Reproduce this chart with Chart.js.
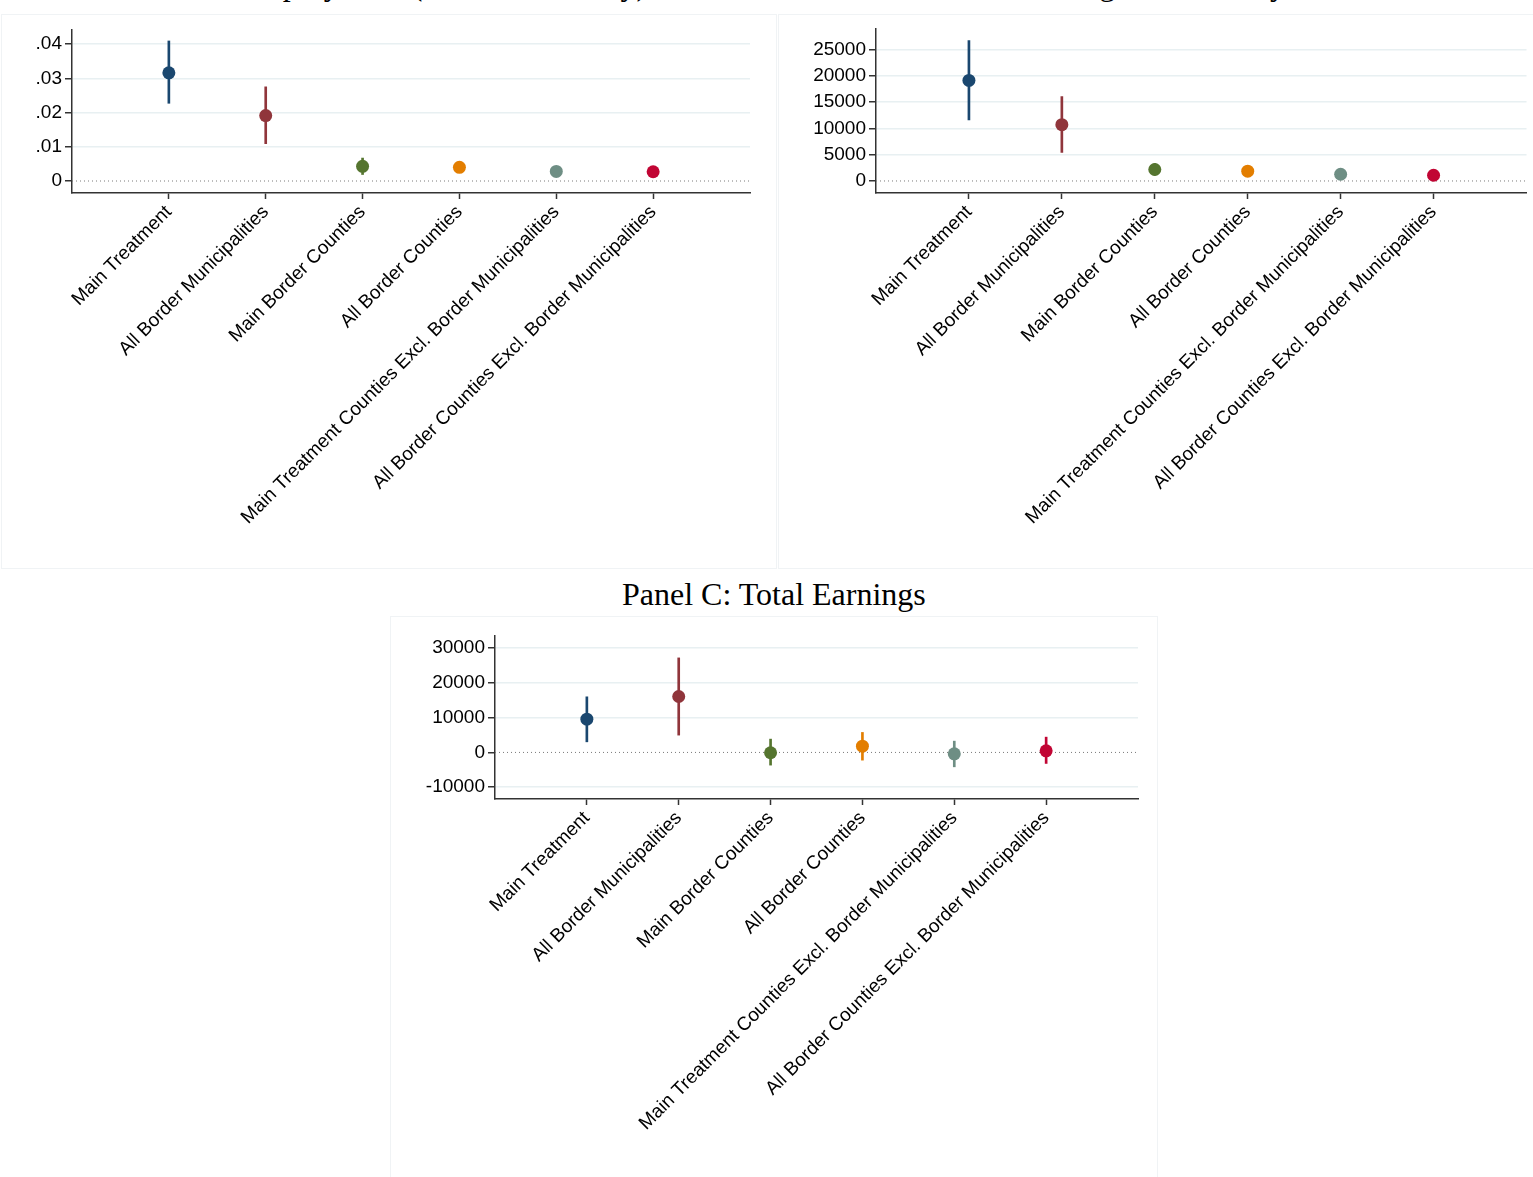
<!DOCTYPE html>
<html>
<head>
<meta charset="utf-8">
<script src="https://cdn.jsdelivr.net/npm/chart.js@4.4.1/dist/chart.umd.min.js"></script>
<style>
body{margin:0;background:#fff;width:1533px;height:1177px;overflow:hidden;position:relative;font-family:"Liberation Sans",Arial,sans-serif}
.box{position:absolute;border:1px solid #f0f3f5;box-sizing:border-box}
.panel{position:absolute}
.title{position:absolute;font-family:"Liberation Serif","Times New Roman",serif;font-size:32px;line-height:32px;white-space:nowrap;color:#000}
</style>
</head>
<body>
<div class="box" style="left:1px;top:14px;width:776px;height:555px"></div>
<div class="box" style="left:778px;top:14px;width:760px;height:555px"></div>
<div class="box" style="left:390px;top:616px;width:768px;height:565px"></div>

<div class="title" style="left:121px;top:-32px">Panel A: Employment (Work in Norway)</div>
<div class="title" style="left:868px;top:-32px">Panel B: Total Wages in Norway</div>
<div class="title" style="left:622px;top:578px">Panel C: Total Earnings</div>

<canvas id="chartA" class="panel" width="778" height="568" style="left:0;top:0"></canvas>
<canvas id="chartB" class="panel" width="753" height="568" style="left:780px;top:0"></canvas>
<canvas id="chartC" class="panel" width="768" height="561" style="left:390px;top:616px"></canvas>

<script>
'use strict'
//////////////////
// Data
//////////////////
const categories = ['Main Treatment', 'All Border Municipalities', 'Main Border Counties', 'All Border Counties',
  'Main Treatment Counties Excl. Border Municipalities', 'All Border Counties Excl. Border Municipalities'];
const markerColors = ['#1a476f', '#90353b', '#55752f', '#e37e00', '#6e8e84', '#c10534'];

// Panel A: employment
const estA = [0.0316, 0.0191, 0.0043, 0.0040, 0.0028, 0.0027];
const loA = [0.0227, 0.0109, 0.0019, 0.0030, 0.0022, 0.0021];
const hiA = [0.0409, 0.0275, 0.0067, 0.0052, 0.0034, 0.0033];
const tickValsA = [0, 0.01, 0.02, 0.03, 0.04];
const tickLabelsA = ['0', '.01', '.02', '.03', '.04'];

// Panel B: total wages in Norway
const estB = [19140, 10720, 2180, 1860, 1280, 1090];
const loB = [11610, 5430, 1090, 1400, 850, 650];
const hiB = [26730, 16070, 3330, 2300, 1700, 1500];
const tickValsB = [0, 5000, 10000, 15000, 20000, 25000];
const tickLabelsB = ['0', '5000', '10000', '15000', '20000', '25000'];

// Panel C: total earnings
const estC = [9580, 16100, -100, 1800, -400, 460];
const loC = [3050, 4980, -3650, -2220, -4140, -3170];
const hiC = [16000, 27200, 3830, 5750, 3250, 4400];
const tickValsC = [-10000, 0, 10000, 20000, 30000];
const tickLabelsC = ['-10000', '0', '10000', '20000', '30000'];

// categories sit at 1..6 on a 0..7 axis
const xRange = [0, 7];

//////////////////
// Functions
//////////////////
function makePanel(canvasId, est, lo, hi, tickVals, tickLabels, p){
  const points = est.map((v, i) => ({x: i + 1, y: v}));
  const spikes = lo.map((v, i) => ({x: i + 1, y: [v, hi[i]]}));
  const zeroLine = xRange.map(x => ({x: x, y: 0}));
  const tickFont = {family: '"Liberation Sans", Arial, sans-serif', size: 19};

  const config = {
    type: 'bar',
    data: {
      datasets: [
        {
          type: 'scatter',
          data: points,
          pointRadius: 6.5,
          pointBorderWidth: 0,
          pointBackgroundColor: markerColors,
          pointBorderColor: markerColors,
          showLine: false,
          order: 1
        },
        {
          type: 'bar',
          data: spikes,
          backgroundColor: markerColors,
          barThickness: 2,
          borderWidth: 0,
          order: 2
        },
        {
          type: 'line',
          data: zeroLine,
          borderColor: '#7a7a7a',
          borderWidth: 1,
          borderDash: [1, 3],
          pointRadius: 0,
          order: 3
        }
      ]
    },
    options: {
      responsive: false,
      animation: false,
      events: [],
      layout: {padding: {top: p.padTop, right: p.padRight, left: 0, bottom: 0}},
      plugins: {legend: {display: false}, tooltip: {enabled: false}},
      scales: {
        x: {
          type: 'linear',
          min: xRange[0],
          max: xRange[1],
          offset: false,
          afterBuildTicks: s => { s.ticks = categories.map((c, i) => ({value: i + 1})); },
          afterFit: s => { s.height = p.xHeight; },
          ticks: {
            autoSkip: false,
            minRotation: 45,
            maxRotation: 45,
            padding: 2,
            color: '#000',
            font: tickFont,
            callback: v => categories[v - 1]
          },
          grid: {offset: false, drawOnChartArea: false, drawTicks: true, tickLength: 6, tickColor: '#333', tickWidth: 1.5},
          border: {color: '#333', width: 1.5}
        },
        y: {
          min: p.yMin,
          max: p.yMax,
          afterBuildTicks: s => { s.ticks = tickVals.map(v => ({value: v})); },
          afterFit: s => { s.width = p.yWidth; },
          ticks: {
            padding: 3,
            color: '#000',
            font: tickFont,
            callback: (v, i) => tickLabels[i]
          },
          grid: {
            color: ctx => (ctx.tick && ctx.tick.value === 0) ? 'rgba(0,0,0,0)' : '#e8f0f2',
            lineWidth: 1.5,
            tickColor: '#333',
            tickWidth: 1.5,
            tickLength: 7
          },
          border: {color: '#333', width: 1.5}
        }
      }
    }
  };
  return new Chart(document.getElementById(canvasId), config);
}

makePanel('chartA', estA, loA, hiA, tickValsA, tickLabelsA,
  {padTop: 30, padRight: 28, yWidth: 72, xHeight: 375, yMin: -0.0035, yMax: 0.0441});
makePanel('chartB', estB, loB, hiB, tickValsB, tickLabelsB,
  {padTop: 29, padRight: 6, yWidth: 96, xHeight: 375, yMin: -2290, yMax: 28930});
makePanel('chartC', estC, loC, hiC, tickValsC, tickLabelsC,
  {padTop: 20, padRight: 20, yWidth: 105, xHeight: 378, yMin: -13400, yMax: 33500});
</script>
</body>
</html>
